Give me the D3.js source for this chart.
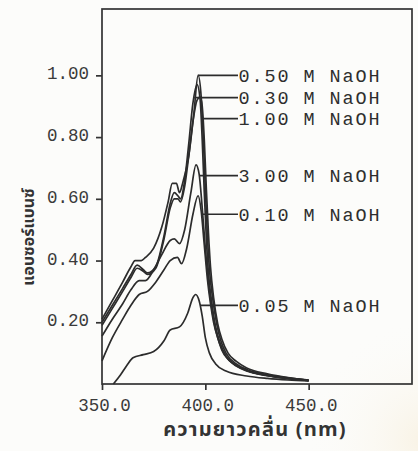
<!DOCTYPE html>
<html>
<head>
<meta charset="utf-8">
<script src="https://cdn.jsdelivr.net/npm/d3@7.9.0/dist/d3.min.js"></script>
<style>
  html, body { margin: 0; padding: 0; background: #fcfcfa; }
  svg { display: block; }
  .tick-label { font-family: "Liberation Mono", "DejaVu Sans Mono", monospace; fill: #3a3a3a; }
  .series-label { font-family: "Liberation Mono", "DejaVu Sans Mono", monospace; fill: #2e2e2e; }
  .axis-title { font-family: "Noto Sans Thai", "Loma", "Garuda", "Tlwg Typo", "DejaVu Sans", sans-serif; font-weight: bold; fill: #333; }
</style>
</head>
<body>
<svg id="chart" width="418" height="451"></svg>
<script>
// wavelength (nm) / absorbance pairs
const naoh050 = [[350,0.21],[355,0.27],[360,0.33],[364,0.38],[366,0.40],[369,0.40],[371,0.41],[375,0.44],[379,0.51],[382,0.59],[384,0.65],[386,0.65],[387.5,0.62],[389,0.65],[392,0.74],[394.5,0.88],[396.5,1.00],[398,0.93],[399,0.80],[400,0.63],[401,0.48],[402,0.37],[403.5,0.28],[405.5,0.195],[407.5,0.14],[410,0.10],[415,0.065],[420,0.047],[430,0.03],[440,0.02],[450,0.012]];
const naoh030 = [[350,0.20],[355,0.255],[360,0.31],[364,0.355],[367,0.385],[370,0.37],[372,0.36],[376,0.38],[380,0.48],[383,0.585],[385,0.62],[386.7,0.61],[388,0.60],[390,0.66],[392,0.78],[394,0.91],[396,0.97],[397.5,0.92],[398.5,0.79],[399.5,0.62],[400.5,0.47],[401.5,0.36],[403,0.27],[405,0.185],[407,0.135],[410,0.09],[415,0.06],[420,0.044],[430,0.028],[440,0.018],[450,0.012]];
const naoh100 = [[350,0.19],[355,0.245],[360,0.30],[364,0.345],[367,0.375],[370,0.365],[372,0.355],[376,0.375],[380,0.47],[383,0.57],[385,0.60],[386.7,0.60],[388,0.59],[390,0.64],[392,0.74],[394,0.85],[396,0.92],[397.5,0.93],[398.5,0.90],[399.5,0.79],[400.5,0.63],[401.5,0.49],[402.5,0.38],[404,0.28],[406,0.195],[408,0.145],[411,0.10],[415,0.073],[420,0.052],[430,0.033],[440,0.021],[450,0.013]];
const naoh300 = [[350,0.155],[355,0.21],[360,0.26],[364,0.305],[368,0.335],[371,0.335],[375,0.37],[379,0.42],[383,0.465],[385,0.47],[387.5,0.455],[390,0.50],[393,0.62],[395.5,0.71],[397,0.68],[398.5,0.57],[400,0.44],[401.5,0.33],[403,0.25],[405,0.175],[407,0.13],[410,0.09],[415,0.06],[420,0.044],[430,0.028],[440,0.018],[450,0.011]];
const naoh010 = [[350,0.075],[355,0.15],[360,0.21],[364,0.255],[368,0.29],[372,0.30],[376,0.33],[380,0.37],[383,0.40],[386.5,0.41],[388.5,0.39],[391,0.44],[394,0.55],[396.5,0.61],[398,0.56],[399.5,0.45],[401,0.34],[402.5,0.26],[404,0.20],[406,0.15],[408,0.11],[411,0.08],[415,0.058],[420,0.042],[430,0.027],[440,0.017],[450,0.011]];
const naoh005 = [[355.5,0],[359,0.03],[362,0.06],[365,0.085],[370,0.095],[375,0.105],[380,0.14],[383,0.175],[387.5,0.185],[391.5,0.23],[394,0.28],[395.3,0.29],[397,0.27],[398.5,0.22],[400,0.15],[402,0.10],[405,0.065],[410,0.042],[420,0.026],[430,0.018],[440,0.013],[450,0.01]];

const seriesData = [naoh050, naoh030, naoh100, naoh300, naoh010, naoh005];
const seriesNames = ['0.50 M NaOH', '0.30 M NaOH', '1.00 M NaOH', '3.00 M NaOH', '0.10 M NaOH', '0.05 M NaOH'];
// absorbance where each leader line meets its curve, and which side of the peak
const labelValues = [1.00, 0.928, 0.86, 0.675, 0.55, 0.255];
const labelSides = ['peak', 'left', 'right', 'right', 'right', 'right'];

const xTicks = [350, 400, 450];
const yTicks = [0.2, 0.4, 0.6, 0.8, 1.0];
const xTitle = 'ความยาวคลื่น (nm)';
const yTitle = 'แอบซอร์แบนซ์';

const svg = d3.select('#chart');

// faint watermark glow in the lower right of the scan
const defs = svg.append('defs');
const glow = defs.append('radialGradient').attr('id', 'glow');
glow.append('stop').attr('offset', '0%').attr('stop-color', '#f6ecd6').attr('stop-opacity', 0.6);
glow.append('stop').attr('offset', '100%').attr('stop-color', '#fcfcfa').attr('stop-opacity', 0);
svg.append('circle').attr('cx', 425).attr('cy', 440).attr('r', 120).attr('fill', 'url(#glow)');

const x = d3.scaleLinear().domain([350, 500]).range([102, 412]);
const y = d3.scaleLinear().domain([0, 1.215]).range([384, 9]);

// frame
svg.append('rect')
  .attr('x', x(350)).attr('y', y(1.215))
  .attr('width', x(500) - x(350)).attr('height', y(0) - y(1.215))
  .attr('fill', 'none').attr('stroke', '#333').attr('stroke-width', 1.7);

// axes
const xAxis = svg.append('g')
  .attr('transform', `translate(0,${y(0)})`)
  .call(d3.axisBottom(x).tickValues(xTicks).tickSize(6).tickFormat(d3.format('.1f')));
xAxis.select('.domain').remove();
xAxis.selectAll('line').attr('stroke', '#333').attr('stroke-width', 1.7);
xAxis.selectAll('text')
  .attr('class', 'tick-label')
  .attr('font-size', 17.5)
  .attr('dx', 2)
  .attr('dy', '1.05em');

const yAxis = svg.append('g')
  .attr('transform', `translate(${x(350)},0)`)
  .call(d3.axisLeft(y).tickValues(yTicks).tickSize(6).tickPadding(7).tickFormat(d3.format('.2f')));
yAxis.select('.domain').remove();
yAxis.selectAll('line').attr('stroke', '#333').attr('stroke-width', 1.7);
yAxis.selectAll('text')
  .attr('class', 'tick-label')
  .attr('font-size', 17.5)
  .attr('dy', '0.2em');

// spectra
const line = d3.line()
  .x((d) => x(d[0]))
  .y((d) => y(d[1]))
  .curve(d3.curveMonotoneX);

svg.append('g')
  .selectAll('path')
  .data(seriesData)
  .join('path')
  .attr('d', line)
  .attr('fill', 'none')
  .attr('stroke', '#2c2c2c')
  .attr('stroke-width', 1.7)
  .attr('stroke-linejoin', 'round');

// find wavelength where a curve reaches value v on the chosen flank
function flankWavelength(pts, v, side) {
  let peak = d3.maxIndex(pts, (d) => d[1]);
  if (side === 'peak') return pts[peak][0];
  if (side === 'left') {
    for (let i = peak; i > 0; i--) {
      let a = pts[i - 1], b = pts[i];
      if (a[1] <= v && b[1] >= v) return a[0] + (v - a[1]) / (b[1] - a[1]) * (b[0] - a[0]);
    }
  } else {
    for (let i = peak; i < pts.length - 1; i++) {
      let a = pts[i], b = pts[i + 1];
      if (a[1] >= v && b[1] <= v) return a[0] + (a[1] - v) / (a[1] - b[1]) * (b[0] - a[0]);
    }
  }
  return pts[peak][0];
}

const labelStart = 415.8;
seriesNames.forEach((name, i) => {
  let w = flankWavelength(seriesData[i], labelValues[i], labelSides[i]);
  svg.append('line')
    .attr('x1', x(w)).attr('x2', x(labelStart))
    .attr('y1', y(labelValues[i])).attr('y2', y(labelValues[i]))
    .attr('stroke', '#2c2c2c').attr('stroke-width', 1.7);
  svg.append('text')
    .attr('class', 'series-label')
    .attr('x', x(labelStart) + 0.5)
    .attr('y', y(labelValues[i]))
    .attr('dy', '0.36em')
    .attr('font-size', 18.5)
    .attr('letter-spacing', 1.9)
    .text(name);
});

// axis titles
svg.append('text')
  .attr('class', 'axis-title')
  .attr('x', 255).attr('y', 436)
  .attr('text-anchor', 'middle')
  .attr('font-size', 20)
  .attr('letter-spacing', 1.2)
  .text(xTitle);

svg.append('text')
  .attr('class', 'axis-title')
  .attr('transform', 'translate(34,237) rotate(-90)')
  .attr('text-anchor', 'middle')
  .attr('font-size', 16)
  .text(yTitle);
</script>
</body>
</html>
